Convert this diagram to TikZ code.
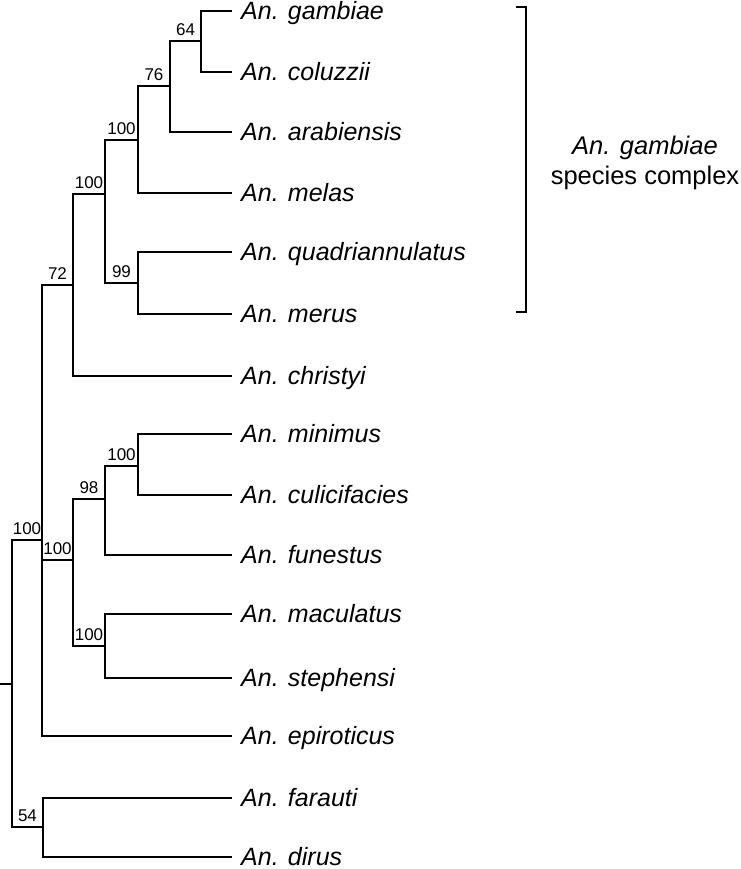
\documentclass[tikz,border=0pt]{standalone}
\usepackage{fontspec}
\setmainfont{Liberation Sans}
\usepackage{tikz}
\usetikzlibrary{positioning,calc}
\tikzset{
  taxon/.style={anchor=west, inner xsep=9pt, inner ysep=0pt, text height=17.5pt, text depth=0pt,
    font=\fontsize{25}{30}\selectfont\itshape},
  support/.style={pos=.75, above=4pt, inner sep=0pt, font=\fontsize{17}{20}\selectfont},
  branch/.style={line width=2.2pt},
  cplx/.style={anchor=base, inner sep=0pt, font=\fontsize{25.5}{30}\selectfont}
}

\begin{document}
\begin{tikzpicture}[x=1pt,y=-1pt]
    \useasboundingbox (0,0) rectangle (740,869);

    \node[taxon] (gam) at (232,11) {An. gambiae};
    \node[taxon] (col) at (232,72) {An. coluzzii};
    \node[taxon] (ara) at (232,132) {An. arabiensis};
    \node[taxon] (mel) at (232,193) {An. melas};
    \node[taxon] (qua) at (232,252) {An. quadriannulatus};
    \node[taxon] (mer) at (232,314) {An. merus};
    \node[taxon] (chr) at (232,376) {An. christyi};
    \node[taxon] (minim) at (232,434) {An. minimus};
    \node[taxon] (cul) at (232,495) {An. culicifacies};
    \node[taxon] (fun) at (232,555) {An. funestus};
    \node[taxon] (mac) at (232,614) {An. maculatus};
    \node[taxon] (ste) at (232,678) {An. stephensi};
    \node[taxon] (epi) at (232,736) {An. epiroticus};
    \node[taxon] (far) at (232,798) {An. farauti};
    \node[taxon] (dir) at (232,857) {An. dirus};

    \coordinate (stub) at (0,684);
    \coordinate (root) at (12,684);
    \coordinate (cA) at (42,540);
    \coordinate (c72) at (73,285);
    \coordinate (c100b) at (105,194);
    \coordinate (c100a) at (138,140);
    \coordinate (c76) at (170,86);
    \coordinate (c64) at (201,41);
    \coordinate (c99) at (138,283);
    \coordinate (c100d) at (73,560);
    \coordinate (c98) at (105,499);
    \coordinate (c100c) at (138,466);
    \coordinate (c100e) at (105,646);
    \coordinate (c54) at (43,827);

    \draw[branch] (stub) -- (root);
    \draw[branch] (root) |- node[support] {100} (cA);
    \draw[branch] (root) |- node[support] {54} (c54);
    \draw[branch] (cA) |- node[support] {72} (c72);
    \draw[branch] (cA) |- node[support] {100} (c100d);
    \draw[branch] (cA) |- (epi.west);
    \draw[branch] (c72) |- node[support] {100} (c100b);
    \draw[branch] (c72) |- (chr.west);
    \draw[branch] (c100b) |- node[support] {100} (c100a);
    \draw[branch] (c100b) |- node[support] {99} (c99);
    \draw[branch] (c100a) |- node[support] {76} (c76);
    \draw[branch] (c100a) |- (mel.west);
    \draw[branch] (c76) |- node[support] {64} (c64);
    \draw[branch] (c76) |- (ara.west);
    \draw[branch] (c64) |- (gam.west);
    \draw[branch] (c64) |- (col.west);
    \draw[branch] (c99) |- (qua.west);
    \draw[branch] (c99) |- (mer.west);
    \draw[branch] (c100d) |- node[support] {98} (c98);
    \draw[branch] (c100d) |- node[support] {100} (c100e);
    \draw[branch] (c98) |- node[support] {100} (c100c);
    \draw[branch] (c98) |- (fun.west);
    \draw[branch] (c100c) |- (minim.west);
    \draw[branch] (c100c) |- (cul.west);
    \draw[branch] (c100e) |- (mac.west);
    \draw[branch] (c100e) |- (ste.west);
    \draw[branch] (c54) |- (far.west);
    \draw[branch] (c54) |- (dir.west);

    \coordinate (btop) at (516,7);
    \coordinate (bbot) at (516,312);
    \draw[branch] (btop) -- ++(10,0) |- (bbot);
    \node[cplx] (cplxa) at (645,155) {\itshape An. gambiae};
    \node[cplx] (cplxb) at (645,185) {species complex};
\end{tikzpicture}
\end{document}
